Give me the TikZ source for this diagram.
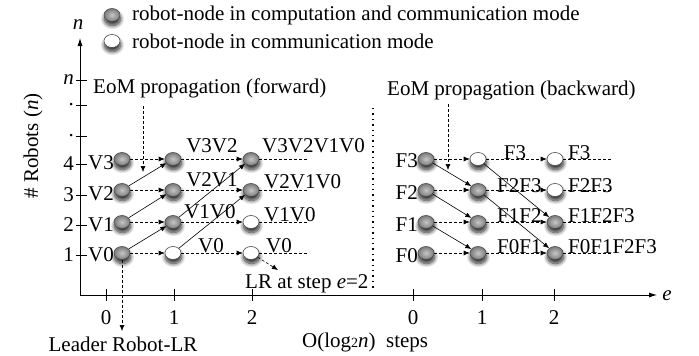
\documentclass[tikz,border=0pt]{standalone}
\usepackage{fontspec}
\setmainfont{Liberation Serif}
\usetikzlibrary{arrows.meta,shapes.geometric,shadows.blur}
\begin{document}
\begin{tikzpicture}[x=1pt,y=-1pt,
  font=\fontsize{21}{25}\selectfont,
  every node/.style={inner sep=0pt},
  rob/.style={ellipse, minimum width=16pt, minimum height=13pt, draw=black!70, line width=0.6pt,
    blur shadow={shadow xshift=0.5pt, shadow yshift=-4pt, shadow blur steps=10, shadow opacity=85, shadow blur radius=4pt}},
  comp/.style={rob, shading=radial, inner color=black!22, outer color=black!52},
  comm/.style={rob, fill=white},
  tipa/.style={-{Latex[length=6pt,width=5pt]}},
  dasharr/.style={tipa, dash pattern=on 3pt off 2pt, line width=0.6pt},
  dashln/.style={dash pattern=on 3pt off 2pt, line width=0.6pt},
  solarr/.style={tipa, line width=0.6pt},
  axisln/.style={line width=0.8pt},
  tickln/.style={line width=0.7pt}
]
\useasboundingbox (0,0) rectangle (699,356);

% ---------- axes ----------
\coordinate (O) at (80,295);
\coordinate (ytop) at (80,38);
\coordinate (xend) at (657,295);
\draw[axisln,-{Latex[length=8pt,width=5pt]}] (O) -- (ytop);
\draw[axisln,-{Latex[length=8pt,width=5pt]}] (O) -- (xend);
\node (ny) at (78,25) {\textit{n}};
\node (ex) at (667,296) {\textit{e}};
\node[rotate=90] (ylab) at (33,146) {\# Robots (\textit{n})};

\foreach \yy/\tl in {80/\textit{n},105/.,136/.,164/4,195/3,225/2,255/1}{
  \draw[tickln] (76,\yy) -- (87,\yy);
  \node[anchor=east] at (74,\yy) {\tl};
}
\foreach \xx/\tl in {106/0,174/1,252/2,413/0,482/1,554/2}{
  \draw[tickln] (\xx,289) -- (\xx,301);
  \node at (\xx,318) {\tl};
}

% ---------- legend ----------
\node[comp] (lg1) at (112,15) {};
\node[comm] (lg2) at (112,41) {};
\node[anchor=west] (lt1) at (132,15) {robot-node in computation and communication mode};
\node[anchor=west] (lt2) at (132,41) {robot-node in communication mode};

% ---------- left group (forward) ----------
\node[comp] (L04) at (122,159) {};
\node[comp] (L03) at (122,190) {};
\node[comp] (L02) at (122,222) {};
\node[comp] (L01) at (122,253) {};
\node[comp] (L14) at (173,159) {};
\node[comp] (L13) at (173,190) {};
\node[comp] (L12) at (173,222) {};
\node[comm] (L11) at (173,253) {};
\node[comp] (L24) at (251,159) {};
\node[comp] (L23) at (251,190) {};
\node[comm] (L22) at (251,222) {};
\node[comm] (L21) at (251,253) {};

\node[anchor=east] (V3) at (114,163) {V3};
\node[anchor=east] (V2) at (114,194) {V2};
\node[anchor=east] (V1) at (114,225) {V1};
\node[anchor=east] (V0) at (114,255) {V0};

\coordinate (LE4) at (308,159);
\coordinate (LE3) at (308,190);
\coordinate (LE2) at (308,222);
\coordinate (LE1) at (308,253);

\foreach \r in {4,3,2,1}{
  \draw[dasharr] (L0\r) -- (L1\r);
  \draw[dasharr] (L1\r) -- (L2\r);
  \draw[dashln] (L2\r) -- (LE\r);
}
\draw[solarr] (L03) -- (L14);
\draw[solarr] (L02) -- (L13);
\draw[solarr] (L01) -- (L12);
\draw[solarr] (L12) -- (L24);
\draw[solarr] (L11) -- (L23);

\node (t1) at (212,146) {V3V2};
\node[anchor=west] (t2) at (262,146) {V3V2V1V0};
\node (t3) at (212,180) {V2V1};
\node[anchor=west] (t4) at (264,182) {V2V1V0};
\node (t5) at (210,212) {V1V0};
\node[anchor=west] (t6) at (264,215) {V1V0};
\node (t7) at (211,246) {V0};
\node[anchor=west] (t8) at (266,246) {V0};

% EoM forward
\node[anchor=west] (eomf) at (93,88) {EoM propagation (forward)};
\coordinate (ef1) at (143,106);
\coordinate (ef2) at (143,172);
\draw[dasharr] (ef1) -- (ef2);

% leader robot
\coordinate (lr1) at (122,331);
\draw[dasharr] (L01) -- (lr1);
\node (leader) at (123,344) {Leader Robot-LR};

\coordinate (lr2) at (278,270);
\draw[dasharr] (L21) -- (lr2);
\node[anchor=west] (lrstep) at (245,284) {LR at step \textit{e}=2};

% separator
\coordinate (s1) at (373,108);
\coordinate (s2) at (373,290);
\draw[line width=1.4pt, dash pattern=on 1.4pt off 4pt] (s1) -- (s2);

% ---------- right group (backward) ----------
\node[comp] (R04) at (426,159) {};
\node[comp] (R03) at (426,190) {};
\node[comp] (R02) at (426,222) {};
\node[comp] (R01) at (426,253) {};
\node[comm] (R14) at (478,159) {};
\node[comp] (R13) at (478,190) {};
\node[comp] (R12) at (478,222) {};
\node[comp] (R11) at (478,253) {};
\node[comm] (R24) at (555,159) {};
\node[comm] (R23) at (555,190) {};
\node[comp] (R22) at (555,222) {};
\node[comp] (R21) at (555,253) {};

\node[anchor=east] (F3) at (418,161) {F3};
\node[anchor=east] (F2) at (418,193) {F2};
\node[anchor=east] (F1) at (418,225) {F1};
\node[anchor=east] (F0) at (418,256) {F0};

\coordinate (RE4) at (612,159);
\coordinate (RE3) at (612,190);
\coordinate (RE2) at (612,222);
\coordinate (RE1) at (612,253);

\foreach \r in {4,3,2,1}{
  \draw[dasharr] (R0\r) -- (R1\r);
  \draw[dasharr] (R1\r) -- (R2\r);
  \draw[dashln] (R2\r) -- (RE\r);
}
\draw[solarr] (R04) -- (R13);
\draw[solarr] (R03) -- (R12);
\draw[solarr] (R02) -- (R11);
\draw[solarr] (R14) -- (R22);
\draw[solarr] (R13) -- (R21);

\node (u1) at (515,153) {F3};
\node[anchor=west] (u2) at (568,153) {F3};
\node[anchor=west] (u3) at (497,186) {F2F3};
\node[anchor=west] (u4) at (568,186) {F2F3};
\node[anchor=west] (u5) at (497,216) {F1F2};
\node[anchor=west] (u6) at (568,216) {F1F2F3};
\node[anchor=west] (u7) at (497,247) {F0F1};
\node[anchor=west] (u8) at (568,247) {F0F1F2F3};

% EoM backward
\node[anchor=west] (eomb) at (387,90) {EoM propagation (backward)};
\coordinate (eb1) at (448,104);
\coordinate (eb2) at (448,170);
\draw[dasharr] (eb1) -- (eb2);

% bottom caption
\node[anchor=west] (steps) at (302,342) {O(log{\fontsize{14}{14}\selectfont 2}\textit{n})\ \ steps};
\end{tikzpicture}
\end{document}
